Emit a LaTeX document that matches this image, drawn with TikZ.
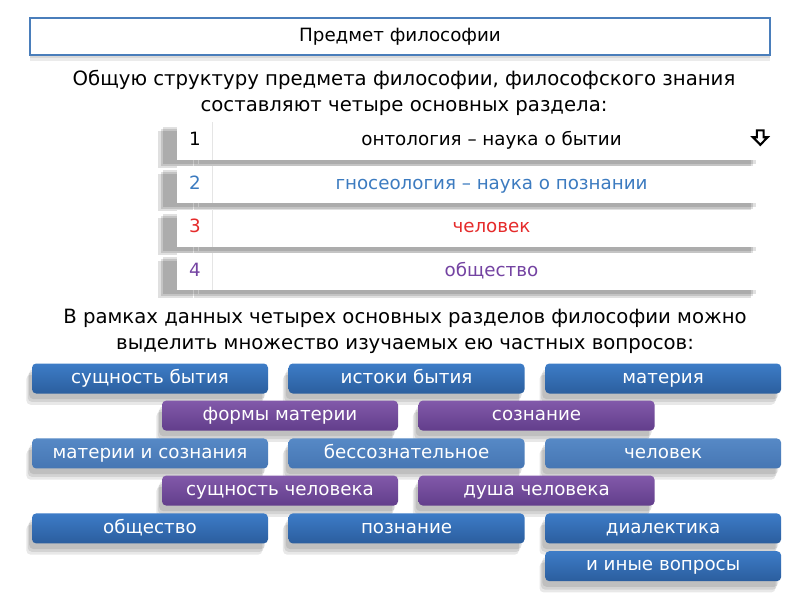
\documentclass[tikz,border=0pt]{standalone}
\usepackage{fontspec}
\setmainfont{DejaVu Sans}
\usetikzlibrary{positioning, shadows}

\definecolor{headblue}{HTML}{4A7EBB}
\definecolor{btntop}{HTML}{3D7CC7}
\definecolor{btnbot}{HTML}{2B5E9E}
\definecolor{lbtntop}{HTML}{5689C6}
\definecolor{lbtnbot}{HTML}{4676B3}
\definecolor{purtop}{HTML}{8259AA}
\definecolor{purbot}{HTML}{623E8B}
\definecolor{txtblue}{HTML}{3C7BC0}
\definecolor{txtred}{HTML}{E52B2B}
\definecolor{txtpur}{HTML}{7443A2}

\begin{document}
\begin{tikzpicture}[font=\fontsize{13}{15}\selectfont, align=center,
    node distance=0.5cm,
    headbox/.style={draw=headblue, line width=1.2pt, fill=white, minimum width=18.5cm, minimum height=0.925cm,
        general shadow={fill=black, opacity=.08, shadow yshift=-2pt},
        general shadow={fill=black, opacity=.08, shadow yshift=-4pt}},
    rowshadow/.style={
        general shadow={fill=black, opacity=.12, shadow xshift=-0.48cm, shadow yshift=-0.2cm},
        general shadow={fill=black, opacity=.12, shadow xshift=-0.42cm, shadow yshift=-0.15cm},
        general shadow={fill=black, opacity=.12, shadow xshift=-0.36cm, shadow yshift=-0.1cm}},
    numcell/.style={fill=white, minimum width=0.875cm, minimum height=0.925cm, inner sep=0pt,
        text height=1.6ex, text depth=0.4ex, rowshadow},
    textcell/.style={fill=white, minimum width=13.925cm, minimum height=0.925cm, inner sep=0pt,
        text height=1.6ex, text depth=0.4ex, rowshadow},
    sepline/.style={draw=black!10, line width=0.4pt},
    btn/.style={rounded corners=3pt, minimum width=5.9cm, minimum height=0.75cm, inner sep=0pt, text=white,
        text height=1.6ex, text depth=0.4ex,
        general shadow={fill=black, opacity=.09, shadow xshift=-4pt, shadow yshift=-8pt},
        general shadow={fill=black, opacity=.09, shadow xshift=-3pt, shadow yshift=-6pt},
        general shadow={fill=black, opacity=.09, shadow xshift=-2pt, shadow yshift=-4pt}},
    darkbtn/.style={btn, top color=btntop, bottom color=btnbot},
    lightbtn/.style={btn, top color=lbtntop, bottom color=lbtnbot},
    purbtn/.style={btn, top color=purtop, bottom color=purbot}
]
    \useasboundingbox[fill=white] (0,0) rectangle (20,-15);

    % title and intro
    \node[headbox] (title) at (10,-0.9125) {Предмет философии};
    \node[font=\fontsize{14}{18.5}\selectfont] (intro) at (10.1,-2.32)
        {Общую структуру предмета философии, философского знания\\составляют четыре основных раздела:};

    % table of sections
    \node[textcell] (t1) at (12.2875,-3.525) {онтология – наука о бытии};
    \node[numcell, left=0pt of t1] (n1) {1};
    \node[textcell, below=0.15cm of t1, text=txtblue] (t2) {гносеология – наука о познании};
    \node[numcell, left=0pt of t2, text=txtblue] (n2) {2};
    \node[textcell, below=0.15cm of t2, text=txtred] (t3) {человек};
    \node[numcell, left=0pt of t3, text=txtred] (n3) {3};
    \node[textcell, below=0.15cm of t3, text=txtpur] (t4) {общество};
    \node[numcell, left=0pt of t4, text=txtpur] (n4) {4};
    \foreach \i in {1,...,4}
        \draw[sepline] (n\i.north east) -- (n\i.south east);
    % down arrow mark
    \coordinate (dn) at ([xshift=-0.25cm, yshift=0.075cm]t1.east);
    \draw[line width=1.5pt, line join=miter] (dn) ++(-0.085,0.19) -- ++(0.17,0) -- ++(0,-0.17) -- ++(0.1,0)
        -- ++(-0.185,-0.19) -- ++(-0.185,0.19) -- ++(0.1,0) -- cycle;

    \node[font=\fontsize{14}{18.5}\selectfont] (sub) at (10.125,-8.28)
        {В рамках данных четырех основных разделов философии можно\\выделить множество изучаемых ею частных вопросов:};

    % questions
    \node[darkbtn] (a1) at (3.75,-9.4625) {сущность бытия};
    \node[darkbtn, right=of a1] (a2) {истоки бытия};
    \node[darkbtn, right=of a2] (a3) {материя};

    \node[purbtn] (b1) at (7.0,-10.39) {формы материи};
    \node[purbtn, right=of b1] (b2) {сознание};

    \node[lightbtn, below=1.11cm of a1] (c1) {материи и сознания};
    \node[lightbtn, right=of c1] (c2) {бессознательное};
    \node[lightbtn, right=of c2] (c3) {человек};

    \node[purbtn, below=1.11cm of b1] (d1) {сущность человека};
    \node[purbtn, right=of d1] (d2) {душа человека};

    \node[darkbtn, below=1.11cm of c1] (e1) {общество};
    \node[darkbtn, right=of e1] (e2) {познание};
    \node[darkbtn, right=of e2] (e3) {диалектика};
    \node[darkbtn, below=0.18cm of e3] (f3) {и иные вопросы};
\end{tikzpicture}
\end{document}
